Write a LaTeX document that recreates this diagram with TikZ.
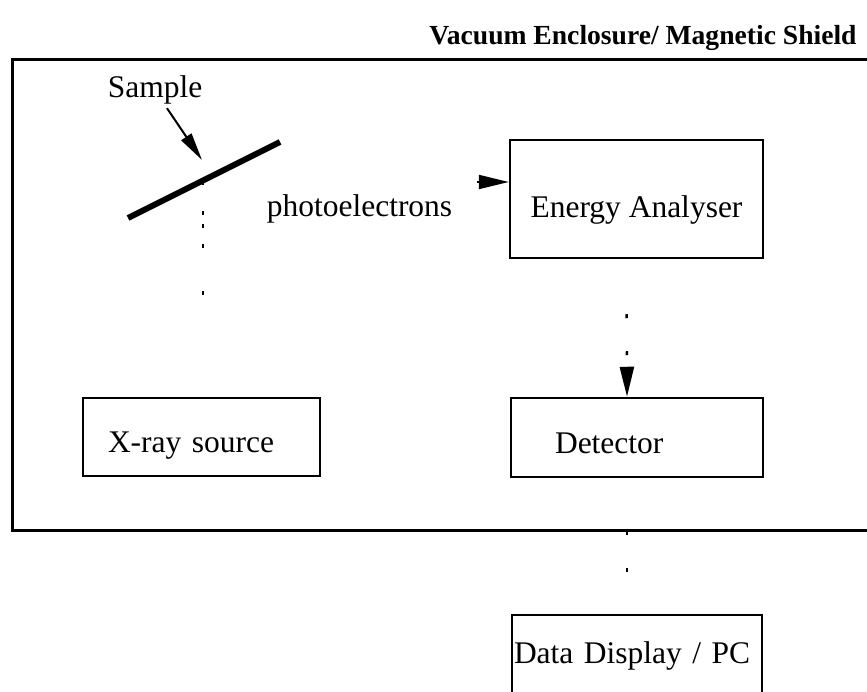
\documentclass[tikz,border=0pt]{standalone}
\usepackage{fontspec}
\setmainfont{Liberation Serif}
\usetikzlibrary{arrows.meta,positioning}
\tikzset{
  unitbox/.style={draw, line width=2.5pt, inner ysep=0pt, anchor=base},
  dots/.style={line width=2.5pt, dash pattern=on 4pt off 33pt},
  tip/.style={-{Triangle[length=30pt,width=14pt]}}
}
\begin{document}
\begin{tikzpicture}[x=1pt,y=-1pt,font=\fontsize{31.5}{36}\selectfont]
  \useasboundingbox (0,0) rectangle (867,692);
  \clip (0,0) rectangle (867,692);
  \coordinate (S1) at (128,218);
  \coordinate (S2) at (280,142);
  \coordinate (SP) at (203,181);
  \coordinate (SX) at (203,295);
  \coordinate (SH) at (202,160);
  \coordinate (PE) at (477,182);

  \draw[line width=3pt] (880,60) -- (12,60) -- (12,530) -- (880,530);
  \node[anchor=base, font=\fontsize{27.6}{32}\selectfont\bfseries] (title) at (643,45) {Vacuum Enclosure/ Magnetic Shield};

  \node[anchor=base] (smp) at (155,98) {Sample};
  \node[anchor=base] (pel) at (359.5,217) {photoelectrons};
  \node[unitbox, minimum width=253pt, inner xsep=0pt, text height=78pt, text depth=40pt] (ea) at (636.5,218) {Energy Analyser};
  \node[unitbox, align=left, text width=164pt, inner xsep=44pt, text height=55pt, text depth=24pt] (det) at (637,453) {Detector};
  \node[unitbox, align=left, text width=187pt, inner xsep=25pt, text height=54pt, text depth=24pt] (xray) at (201.5,452) {X-ray source};
  \node[unitbox, align=left, text width=246pt, inner xsep=2pt, text height=48pt, text depth=45pt] (pc) at (637,663) {Data Display / PC};

  \draw[line width=6pt] (S1) -- (S2);
  \draw[line width=2pt, -{Triangle[length=28pt,width=12pt]}] ([xshift=12pt]smp.south) -- (SH);
  \draw[line width=2.5pt, dash pattern=on 4pt off 26pt on 4pt off 9pt on 4pt off 16pt on 4pt off 43pt] (SP) -- (SX);

  \draw[tip, line width=2pt] (PE) -- (PE -| ea.west);
  \draw[dots, tip, dash phase=32pt, shorten <=50pt] ([xshift=-10pt]ea.south) -- ([xshift=-10pt]det.north);
  \draw[dots, dash phase=34pt, shorten <=50pt, shorten >=15pt] ([xshift=-10pt]det.south) -- ([xshift=-10pt]pc.north);
\end{tikzpicture}
\end{document}
